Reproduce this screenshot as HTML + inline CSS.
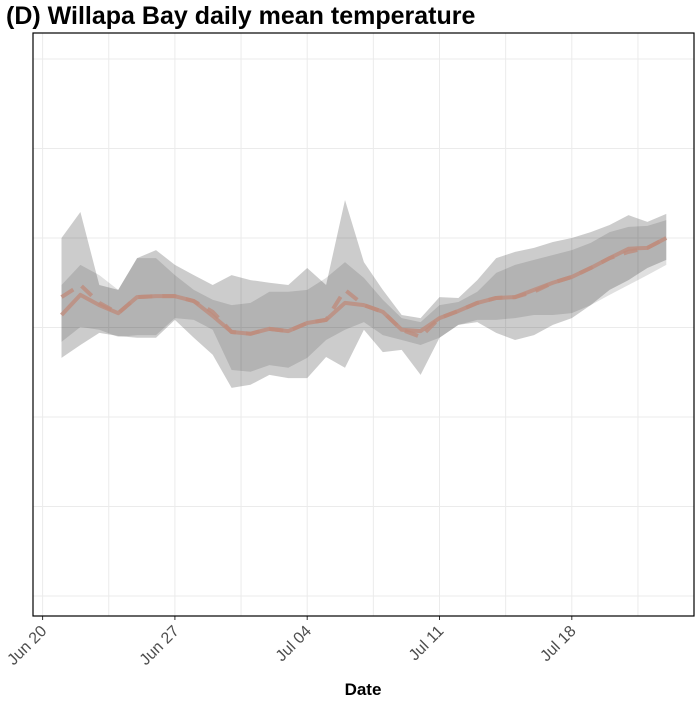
<!DOCTYPE html>
<html><head><meta charset="utf-8"><style>
body{margin:0;background:#fff;font-family:"Liberation Sans",sans-serif}
svg text{font-family:"Liberation Sans",sans-serif}
</style></head><body>
<svg id="chart" width="700" height="700" xmlns="http://www.w3.org/2000/svg">
<text x="6" y="24" font-size="25" font-weight="bold" fill="#000">(D) Willapa Bay daily mean temperature</text>
<g id="grid"></g><g id="bands"></g><g id="lines"></g><g id="axes"></g>
<rect x="33" y="33" width="661" height="583" fill="none" stroke="#000" stroke-width="1.2"/>
<text x="363" y="695" font-size="17" font-weight="bold" text-anchor="middle">Date</text>
</svg>
<script>
const days=[1,2,3,4,5,6,7,8,9,10,11,12,13,14,15,16,17,18,19,20,21,22,23,24,25,26,27,28,29,30,31,32,33];
const meanSolid=[16.28,16.73,16.50,16.32,16.68,16.70,16.70,16.59,16.26,15.90,15.86,15.97,15.92,16.10,16.17,16.55,16.50,16.35,15.95,15.92,16.21,16.37,16.55,16.66,16.68,16.84,17.00,17.13,17.33,17.55,17.76,17.78,18.00];
const meanDashed=[16.68,16.95,16.55,16.32,16.68,16.70,16.70,16.59,16.35,15.90,15.86,15.97,15.92,16.10,16.17,16.84,16.50,16.35,15.95,15.79,16.21,16.37,16.55,16.66,16.68,16.80,17.00,17.13,17.33,17.55,17.69,17.78,18.00];
const outerUpper=[18.00,18.58,16.95,16.84,17.55,17.73,17.40,17.17,16.95,17.17,17.06,17.00,16.95,17.33,16.95,18.85,17.46,16.84,16.28,16.21,16.68,16.66,17.06,17.55,17.69,17.78,17.91,18.00,18.13,18.29,18.51,18.36,18.54];
const outerLower=[15.32,15.61,15.88,15.81,15.77,15.77,16.17,15.77,15.39,14.65,14.72,14.94,14.87,14.87,15.34,15.10,15.95,15.45,15.50,14.94,15.77,16.06,16.12,15.88,15.72,15.83,16.06,16.21,16.50,16.84,17.06,17.33,17.51];
const innerUpper=[16.95,17.40,17.17,16.84,17.55,17.55,17.17,16.84,16.62,16.50,16.55,16.80,16.80,16.84,17.11,17.46,17.11,16.62,16.21,16.12,16.50,16.57,16.80,17.22,17.40,17.51,17.62,17.73,17.89,18.13,18.25,18.27,18.40];
const innerLower=[15.68,16.01,15.95,15.79,15.83,15.83,16.21,16.17,15.95,15.05,15.01,15.16,15.10,15.32,15.72,15.95,16.12,15.83,15.72,15.61,15.77,16.06,16.17,16.17,16.21,16.28,16.28,16.32,16.50,16.73,16.95,17.17,17.40];
const xTickDays=[0,7,14,21,28];
const xTickLabels=["Jun 20","Jun 27","Jul 04","Jul 11","Jul 18"];
const yGridValues=[10,12,14,16,18,20,22];

const NS="http://www.w3.org/2000/svg";
const X=d=>42.6+d*18.9;
const Y=v=>596-(v-10)*44.75;
function mk(tag,attrs,parent){const e=document.createElementNS(NS,tag);for(const k in attrs)e.setAttribute(k,attrs[k]);parent.appendChild(e);return e;}
const grid=document.getElementById('grid'),bands=document.getElementById('bands'),lines=document.getElementById('lines'),axes=document.getElementById('axes');
yGridValues.forEach(v=>{const l=mk('line',{x1:33,x2:694,y1:Y(v),y2:Y(v),stroke:'#ebebeb','stroke-width':1},grid);

});
for(let d=0;d<=35;d+=3.5){const l=mk('line',{x1:X(d),x2:X(d),y1:33,y2:616,stroke:'#ebebeb','stroke-width':1},grid);

}
function band(up,lo,fill,name){let pts=days.map((d,i)=>X(d)+','+Y(up[i]));
for(let i=days.length-1;i>=0;i--)pts.push(X(days[i])+','+Y(lo[i]));
const p=mk('polygon',{points:pts.join(' '),fill:fill},bands);

}
band(outerUpper,outerLower,'rgba(0,0,0,0.2)','outer-range-band');
band(innerUpper,innerLower,'rgba(0,0,0,0.12)','inner-range-band');
function line(vals,dash,name){const p=mk('polyline',{points:days.map((d,i)=>X(d)+','+Y(vals[i])).join(' '),fill:'none',stroke:'rgba(190,140,125,0.8)','stroke-width':4,'stroke-dasharray':dash,'stroke-linejoin':'round'},lines);

}
line(meanDashed,'14 10','dashed-mean-line');
line(meanSolid,'none','solid-mean-line');
xTickDays.forEach((d,i)=>{const x=X(d);
const t=mk('line',{x1:x,x2:x,y1:616,y2:620,stroke:'#333','stroke-width':1},axes);


const tx=mk('text',{x:x+5,y:632,'font-size':16,fill:'#4d4d4d','text-anchor':'end',transform:`rotate(-45 ${x+5} 632)`},axes);
tx.textContent=xTickLabels[i];

});
</script>
</body></html>
